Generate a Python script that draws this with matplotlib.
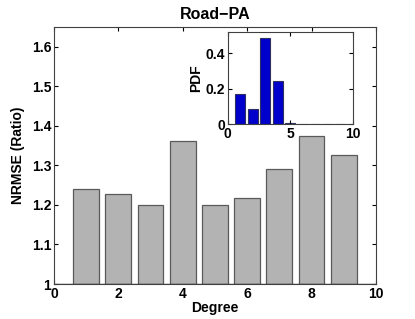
import matplotlib
matplotlib.use('Agg')
import matplotlib.pyplot as plt

# Main bars: NRMSE ratio per degree
degrees = [1, 2, 3, 4, 5, 6, 7, 8, 9]
nrmse = [1.240, 1.229, 1.199, 1.361, 1.201, 1.218, 1.292, 1.375, 1.327]

# Inset: degree distribution
pdf_degrees = [1, 2, 3, 4, 5, 6, 7, 8, 9]
pdf_values = [0.172, 0.085, 0.490, 0.246, 0.006, 0.002, 0.0, 0.0, 0.0]

plt.rcParams['font.family'] = ['Liberation Sans', 'DejaVu Sans']
plt.rcParams['font.weight'] = 'bold'
plt.rcParams['font.size'] = 10

fig = plt.figure(figsize=(4.15, 3.19), dpi=100)

ax = fig.add_axes([0.130, 0.1097, 0.776, 0.8053])
ax.bar(degrees, [v - 1 for v in nrmse], bottom=1, width=0.8,
       color='#b3b3b3', edgecolor='#5a5a5a', linewidth=0.9, zorder=2)
ax.axhline(1, color='#404040', linewidth=1.0, zorder=3)
ax.set_xlim(0, 10)
ax.set_ylim(1, 1.65)
ax.set_xticks([0, 2, 4, 6, 8, 10])
ax.set_yticks([1, 1.1, 1.2, 1.3, 1.4, 1.5, 1.6])
ax.set_yticklabels(['1', '1.1', '1.2', '1.3', '1.4', '1.5', '1.6'])
ax.tick_params(direction='in', top=True, right=True, length=3, pad=2)
ax.set_xlabel('Degree', fontweight='bold', labelpad=0)
ax.set_ylabel('NRMSE (Ratio)', fontweight='bold', labelpad=5)
ax.set_title('Road\u2212PA', fontweight='bold', fontsize=11.5, pad=6)
for s in ax.spines.values():
    s.set_color('#404040')

# Inset axes
ins = fig.add_axes([0.549, 0.611, 0.301, 0.288])
ins.bar(pdf_degrees, pdf_values, width=0.8, color='#0000cc',
        edgecolor='#303060', linewidth=0.8)
ins.set_xlim(0, 10)
ins.set_ylim(0, 0.52)
ins.set_xticks([0, 5, 10])
ins.set_yticks([0, 0.2, 0.4])
ins.set_yticklabels(['0', '0.2', '0.4'])
ins.tick_params(direction='in', top=True, right=True, length=3, pad=2)
ins.set_ylabel('PDF', fontweight='bold', labelpad=2)
for s in ins.spines.values():
    s.set_color('#404040')

fig.savefig('out.png', dpi=100)
